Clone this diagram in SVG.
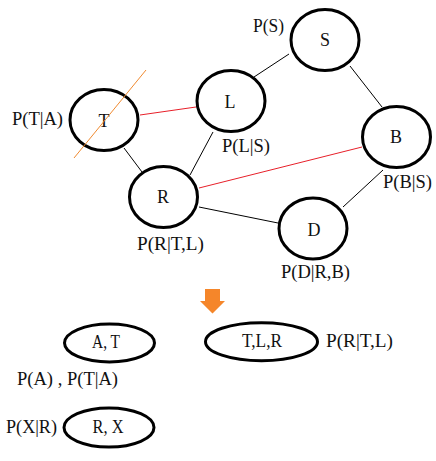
<svg xmlns="http://www.w3.org/2000/svg" width="436" height="461" viewBox="0 0 436 461">
<style>
.n{fill:#fff;stroke:#000;stroke-width:3}
.t{font-family:"Liberation Serif",serif;font-size:18px;fill:#111}
.c{text-anchor:middle}
.e{stroke:#000;stroke-width:1;fill:none}
.r{stroke:#e8202a;stroke-width:1;fill:none}
</style>
<rect width="436" height="461" fill="#fff"/>
<g id="connectors">
<line class="e" x1="289" y1="54" x2="254" y2="77"/>
<line class="e" x1="350" y1="66" x2="382" y2="107"/>
<line class="e" x1="213" y1="132" x2="190" y2="175"/>
<line class="e" x1="124" y1="148" x2="142" y2="172"/>
<line class="r" x1="140" y1="115" x2="196" y2="107"/>
<line class="r" x1="199" y1="188" x2="362" y2="147"/>
<line class="e" x1="199" y1="207" x2="278" y2="223"/>
<line class="e" x1="383" y1="170" x2="343" y2="207"/>
</g>
<g id="node-S"><ellipse class="n" cx="325" cy="40" rx="34" ry="30.5"/><text class="t c" x="325" y="46">S</text></g>
<g id="node-L"><ellipse class="n" cx="231" cy="101" rx="34" ry="30.5"/><text class="t c" x="230" y="108">L</text></g>
<g id="node-T"><ellipse class="n" cx="104" cy="120" rx="34" ry="30.5"/><text class="t c" x="104" y="127">T</text></g>
<g id="node-R"><ellipse class="n" cx="163.5" cy="197" rx="34" ry="30.5"/><text class="t c" x="163" y="203">R</text></g>
<g id="node-B"><ellipse class="n" cx="396.5" cy="137" rx="34" ry="30.5"/><text class="t c" x="396" y="143">B</text></g>
<g id="node-D"><ellipse class="n" cx="313" cy="228.5" rx="34" ry="30.5"/><text class="t c" x="314" y="236">D</text></g>
<g id="strike"><line x1="146" y1="70" x2="74" y2="158" stroke="#f08a30" stroke-width="1"/></g>
<g id="labels">
<text class="t" x="253" y="32" textLength="31" lengthAdjust="spacingAndGlyphs">P(S)</text>
<text class="t" x="12" y="125" textLength="51" lengthAdjust="spacingAndGlyphs">P(T|A)</text>
<text class="t" x="222" y="152" textLength="48" lengthAdjust="spacingAndGlyphs">P(L|S)</text>
<text class="t" x="383" y="188" textLength="49" lengthAdjust="spacingAndGlyphs">P(B|S)</text>
<text class="t" x="281" y="278" textLength="69" lengthAdjust="spacingAndGlyphs">P(D|R,B)</text>
<text class="t" x="137" y="250" textLength="67" lengthAdjust="spacingAndGlyphs">P(R|T,L)</text>
</g>
<g id="arrow"><polygon points="205,289 220,289 220,301 225,301 212.5,313.5 200,301 205,301" fill="#f5862a"/></g>
<g id="node-AT"><ellipse class="n" cx="109.5" cy="343" rx="45" ry="19"/><text class="t c" x="106" y="348" textLength="28" lengthAdjust="spacingAndGlyphs">A, T</text></g>
<g id="node-TLR"><ellipse class="n" cx="261.5" cy="341.7" rx="56" ry="19"/><text class="t c" x="262" y="347" textLength="40" lengthAdjust="spacingAndGlyphs">T,L,R</text></g>
<g id="node-RX"><ellipse class="n" cx="109" cy="427.5" rx="45" ry="19.5"/><text class="t c" x="108" y="433" textLength="31" lengthAdjust="spacingAndGlyphs">R, X</text></g>
<g id="labels2">
<text class="t" x="326" y="347" textLength="67" lengthAdjust="spacingAndGlyphs">P(R|T,L)</text>
<text class="t" x="17" y="385" textLength="101" lengthAdjust="spacingAndGlyphs">P(A) , P(T|A)</text>
<text class="t" x="6" y="433" textLength="51" lengthAdjust="spacingAndGlyphs">P(X|R)</text>
</g>
</svg>
